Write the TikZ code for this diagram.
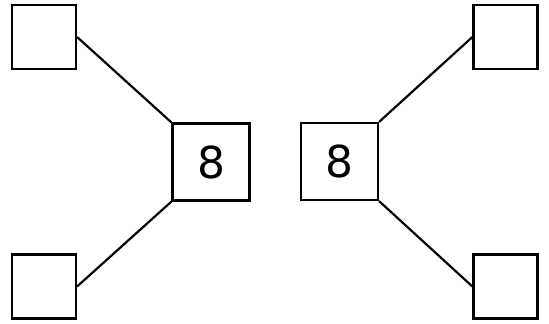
\documentclass[tikz,border=0pt]{standalone}
\usepackage{fontspec}
\setmainfont{DejaVu Sans}
\usepackage{tikz}
\usetikzlibrary{positioning}
\tikzset{
    leafbox/.style={
        rectangle, draw=black, fill=white, line width=2.2pt,
        minimum size=64pt, inner sep=0pt
    },
    digitbox/.style={
        rectangle, draw=black, fill=white, line width=2.2pt,
        minimum size=77pt, inner sep=0pt,
        font=\fontsize{44pt}{44pt}\selectfont
    },
    link/.style={
        line width=2.2pt, draw=black
    },
}
\begin{document}
\begin{tikzpicture}[x=1pt, y=-1pt]
    \useasboundingbox (0,0) rectangle (549,324);

    % Centre boxes
    \node[digitbox] (leftbox) at (211,162) {8};
    \node[digitbox] (rightbox) at (339.5,161.5) {8};

    % Corner boxes
    \node[leafbox] (topleft) at (44,37) {};
    \node[leafbox] (botleft) at (44,286.5) {};
    \node[leafbox] (topright) at (505.5,37) {};
    \node[leafbox] (botright) at (505.5,286.5) {};

    % Links
    \draw[link] (topleft.east) -- (leftbox.north west);
    \draw[link] (botleft.east) -- (leftbox.south west);
    \draw[link] (rightbox.north east) -- (topright.west);
    \draw[link] (rightbox.south east) -- (botright.west);

\end{tikzpicture}
\end{document}
